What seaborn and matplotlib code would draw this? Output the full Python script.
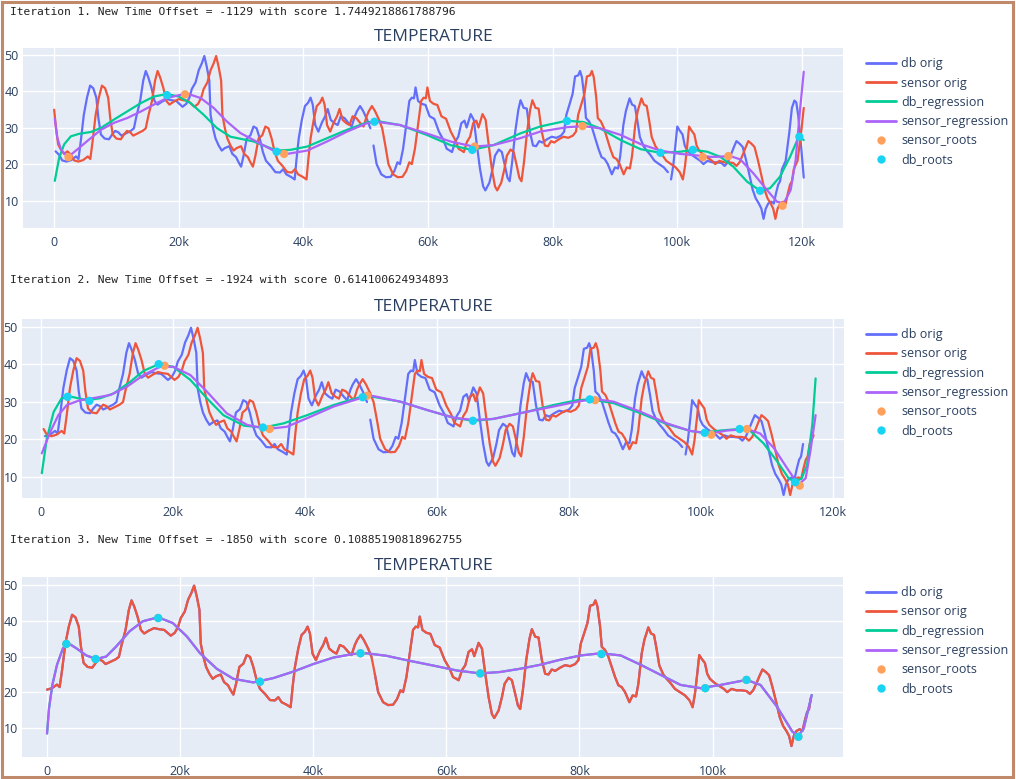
import numpy as np
import pandas as pd
import matplotlib
matplotlib.use("Agg")
import matplotlib.pyplot as plt
import seaborn as sns
from matplotlib.lines import Line2D
from matplotlib.patches import Rectangle
from matplotlib.ticker import FuncFormatter

sns.set_theme(style="darkgrid")
plt.rcParams['font.family'] = ['Open Sans', 'DejaVu Sans']

# ---------------- data (x in thousands) ----------------
temp_t = [-3.9, -3.6, -3.26, -2.83, -2.3, -1.77, -1.23, -0.7,
          0.0, 0.75, 1.5, 1.9, 2.26, 2.76, 3.27, 3.77, 4.27, 4.77, 5.1, 5.5,
          6.1, 6.8, 7.3, 7.8, 8.3, 8.8, 9.5, 10.3, 10.8, 11.2, 11.8, 12.3,
          12.7, 13.1, 13.6, 14.1, 14.6, 15.3, 16.1, 16.8, 17.6, 18.1, 18.6,
          19.2, 19.7, 20.1, 20.7, 21.2, 21.7, 22.1, 22.5, 22.9, 23.1, 23.5,
          23.9, 24.4, 24.9, 25.4, 26.1, 26.6, 27.2, 27.6, 28.0, 28.4, 28.9,
          29.5, 30.0, 30.5, 31.0, 31.5, 32.0, 32.75, 33.5, 34.25, 34.75,
          35.25, 36.0, 36.6, 36.9, 37.25, 37.75, 38.25, 38.75, 39.15, 39.5,
          39.9, 40.4, 41.0, 41.5, 41.9, 42.4, 43.0, 43.5, 44.0, 44.6, 45.25,
          45.75, 46.25, 46.6, 47.1, 47.6, 48.25, 48.75, 49.25, 49.75, 50.5,
          51.25, 52.0, 52.6, 53.1, 53.5, 54.0, 54.5, 55.0, 55.4, 55.75, 56.0,
          56.4, 57.0, 57.6, 58.25, 59.0, 59.75, 60.5, 61.0, 61.5, 61.85,
          62.35, 62.85, 63.35, 63.85, 64.2, 64.85, 65.35, 65.85, 66.35,
          66.85, 67.2, 67.85, 68.35, 68.75, 69.35, 69.85, 70.35, 70.75, 71.1,
          71.5, 72.0, 72.5, 72.85, 73.35, 73.85, 74.35, 74.85, 75.35, 75.85,
          76.35, 77.1, 77.85, 78.6, 79.35, 79.85, 80.2, 80.7, 81.2, 81.6,
          82.1, 82.4, 82.7, 83.1, 83.35, 83.85, 84.35, 84.85, 85.35, 85.85,
          86.35, 86.85, 87.5, 88.0, 88.5, 88.85, 89.35, 89.75, 90.35, 90.75,
          91.2, 91.6, 92.0, 92.6, 93.1, 93.6, 94.35, 95.1, 95.85, 96.5, 97.0,
          97.35, 97.7, 98.0, 98.35, 98.85, 99.2, 99.6, 100.35, 101.1, 101.7,
          102.2, 102.85, 103.6, 104.35, 105.1, 105.6, 106.1, 106.6, 107.1,
          107.5, 108.0, 108.5, 109.0, 109.5, 110.1, 110.6, 111.1, 111.5,
          111.85, 112.2, 112.6, 113.1, 113.5, 113.85, 114.2, 114.5, 114.8,
          115.4, 116.0, 116.4]
temp_v = [35.0, 30.0, 25.5, 24.1, 22.9, 23.6, 22.7, 21.1,
          20.8, 21.2, 22.2, 21.5, 26.2, 33.6, 38.3, 41.6, 40.9, 38.3, 32.7, 28.2,
          27.1, 26.9, 28.2, 29.2, 28.8, 27.9, 28.5, 29.2, 29.9, 33.2, 37.4, 43.0,
          45.6, 43.9, 41.1, 37.4, 36.4, 37.2, 37.9, 37.6, 37.4, 36.6, 35.8,
          36.6, 38.3, 40.7, 42.5, 45.8, 47.7, 49.7, 46.7, 43.0, 33.6, 29.9,
          27.1, 25.2, 23.8, 24.5, 25.0, 22.9, 22.0, 20.6, 19.4, 22.4, 27.1,
          28.0, 30.4, 29.9, 27.1, 23.4, 21.0, 19.6, 17.9, 17.8, 18.7,
          17.3, 16.6, 15.9, 21.5, 27.1, 32.2, 36.0, 36.9, 38.3, 36.4,
          30.8, 29.0, 31.6, 33.2, 35.2, 32.2, 31.3, 30.8, 33.2, 32.7, 31.3,
          30.4, 33.2, 34.6, 36.0, 34.6, 32.2, 29.9, 25.2, 20.1, 17.3,
          16.5, 16.6, 18.2, 20.6, 20.1, 24.3, 30.8, 37.4, 38.3, 38.1, 41.1,
          37.4, 36.6, 36.3, 33.2, 32.5, 29.0, 26.6, 24.3, 23.8, 23.4,
          26.2, 27.6, 31.3, 32.0, 30.1, 33.8, 32.2, 25.2, 18.7,
          14.0, 12.9, 15.0, 18.7, 22.4, 24.1, 23.4, 19.6, 16.4, 15.4,
          20.6, 29.0, 35.0, 37.6, 35.5, 35.3, 29.0, 25.2, 25.0, 26.4,
          26.0, 26.9, 27.6, 27.3, 27.9, 29.0, 33.6, 36.4, 39.3, 44.1,
          44.4, 45.6, 43.9, 38.3, 32.7, 31.8, 29.9, 27.1, 24.3, 22.0,
          21.5, 20.1, 17.3, 19.2, 18.9, 22.4, 30.8, 34.6, 38.1, 36.4,
          36.0, 32.0, 27.5, 25.0, 23.8, 22.8, 21.0, 20.1, 19.2, 17.9, 15.9,
          19.6, 25.2, 30.4, 29.4, 28.2, 25.2, 23.8, 22.6, 21.7, 21.0,
          20.1, 21.0, 20.6, 20.6, 20.4, 19.6, 20.6, 22.6, 24.8,
          26.4, 25.7, 24.8, 21.5, 17.8, 13.1, 10.7, 9.3, 7.9,
          5.1, 7.9, 9.3, 9.8, 9.3, 12.1, 14.5, 15.4, 18.7,
          21.0, 29.0, 35.5]
# extra db readings after the sensor trace ends (iteration 1 only)
db_tail_t = [116.8, 117.1, 117.4, 117.9, 118.3]
db_tail_v = [37.5, 37.0, 33.6, 24.5, 16.4]
# positions where the db trace is broken
db_breaks_t = [49.0, 96.75]

iteration_texts = [
    "Iteration 1. New Time Offset = -1129 with score 1.7449218861788796",
    "Iteration 2. New Time Offset = -1924 with score 0.614100624934893",
    "Iteration 3. New Time Offset = -1850 with score 0.10885190818962755",
]
sensor_shift = [3.9, 1.6, 0.0]   # sensor time axis start per iteration
db_lead = [1.9, 1.0, 0.0]        # remaining db lead over sensor
sensor_t_end = [116.4, 115.4, 114.8]
db_t_end = [118.3, 114.8, 114.8]

# ---- iteration 1 regressions / roots ----
db_reg1_x = [0.1, 0.8, 1.6, 2.67, 4.0, 5.9, 7.5, 9.6, 11.7, 13.9, 16.0, 18.1,
             20.0, 21.9, 24.0, 26.1, 28.3, 32.0, 35.7, 37.9, 40.6, 43.8, 47.0,
             50.2, 51.8, 55.5, 59.8, 63.6, 67.0, 70.5, 74.8, 78.0, 82.3, 85.0,
             87.6, 90.9, 94.1, 97.3, 100.5, 102.6, 104.8, 106.9, 109.0, 111.2,
             113.3, 114.9, 116.5, 118.1, 119.5, 120.3]
db_reg1_y = [15.5, 21.8, 25.5, 27.7, 28.4, 28.9, 30.0, 32.3, 34.5, 36.8, 38.6,
             39.3, 38.6, 36.8, 33.6, 30.0, 27.6, 26.3, 23.8, 24.0, 24.9, 27.2,
             29.5, 31.5, 31.9, 30.8, 28.1, 25.3, 24.0, 25.3, 28.5, 30.4, 32.0,
             31.6, 29.9, 26.7, 24.2, 23.2, 23.5, 24.0, 23.5, 22.1, 19.4, 15.3,
             12.8, 13.5, 16.7, 22.1, 27.6, 26.7]
sens_reg1_x = [0.1, 0.5, 1.1, 1.9, 2.7, 3.7, 5.3, 7.5, 9.6, 11.7, 13.9, 16.0,
               18.1, 20.3, 21.9, 23.5, 25.6, 27.7, 29.9, 32.0, 35.2, 37.4,
               40.6, 43.8, 47.0, 50.2, 51.8, 55.5, 59.8, 63.6, 67.3, 70.5,
               74.8, 78.0, 82.3, 85.0, 87.6, 90.9, 94.1, 97.3, 100.5, 105.3,
               106.4, 108.5, 110.1, 112.2, 114.4, 116.0, 117.1, 118.2, 119.0,
               119.7, 120.3]
sens_reg1_y = [32.5, 27.3, 24.1, 22.5, 22.7, 24.1, 26.4, 29.5, 31.4, 32.7,
               34.5, 36.4, 38.2, 39.1, 39.1, 38.2, 35.5, 31.8, 28.6, 26.7,
               23.8, 22.9, 23.8, 26.3, 29.0, 31.3, 31.7, 30.8, 28.5, 26.3,
               24.9, 25.3, 27.2, 29.0, 30.2, 30.5, 29.9, 28.1, 25.6, 23.8,
               22.9, 22.1, 22.1, 22.3, 21.4, 17.6, 13.0, 9.8, 9.4, 13.0, 21.2,
               34.9, 45.4]
sens_roots1_x = [2.3, 21.0, 36.9, 67.5, 84.8, 104.1, 108.2, 116.9]
sens_roots1_y = [22.0, 39.2, 22.9, 24.9, 30.5, 22.0, 22.3, 8.7]
db_roots1_x = [18.1, 35.7, 51.4, 67.1, 82.3, 97.3, 102.5, 113.3, 119.6]
db_roots1_y = [39.0, 23.5, 31.7, 24.0, 31.9, 23.2, 24.0, 12.8, 27.6]

# ---- iteration 2 regressions / roots ----
db_reg2_x = [0.1, 0.86, 1.9, 3.1, 4.6, 6.9, 8.9, 11.0, 13.5, 15.5, 17.8, 20.0,
             22.6, 25.1, 27.6, 30.7, 33.7, 36.7, 40.3, 44.3, 48.3, 50.3, 54.4,
             58.4, 62.5, 65.5, 68.5, 73.6, 77.6, 81.2, 83.2, 86.7, 90.8, 94.8,
             98.3, 100.3, 102.9, 105.7, 107.4, 109.4, 111.5, 113.2, 114.2,
             115.2, 116.0, 116.8, 117.3]
db_reg2_y = [10.9, 20.2, 27.3, 30.9, 31.3, 30.4, 30.9, 32.2, 35.3, 38.2, 40.0,
             39.3, 35.8, 30.9, 26.4, 23.6, 23.1, 24.2, 26.4, 29.1, 31.2, 31.3,
             30.0, 27.8, 25.7, 24.9, 25.4, 27.3, 29.1, 30.4, 30.6, 29.6, 26.9,
             24.0, 22.2, 21.7, 22.3, 22.7, 22.2, 18.9, 14.0, 9.6, 8.5, 9.6,
             13.1, 23.8, 36.2]
sens_reg2_x = [0.1, 1.4, 2.6, 3.9, 5.9, 8.4, 10.5, 13.0, 15.5, 18.0, 20.0,
               22.6, 25.1, 28.1, 31.2, 34.2, 37.2, 40.3, 44.3, 48.3, 50.3,
               54.4, 58.4, 62.5, 65.5, 68.5, 73.6, 77.6, 81.2, 83.9, 86.7,
               90.8, 94.8, 98.3, 101.3, 103.9, 106.9, 108.9, 111.0, 113.0,
               114.7, 115.8, 116.5, 117.3]
sens_reg2_y = [16.2, 22.0, 26.4, 29.1, 30.4, 31.1, 31.8, 34.0, 37.1, 39.3,
               39.3, 37.1, 32.7, 26.9, 23.8, 22.7, 23.3, 25.6, 28.7, 30.9,
               31.5, 30.0, 27.8, 25.7, 25.1, 25.4, 27.3, 28.7, 30.0, 30.7,
               30.0, 27.3, 24.2, 22.2, 21.5, 22.3, 22.7, 21.5, 17.6, 12.2,
               7.8, 9.6, 16.7, 26.4]
sens_roots2_x = [18.7, 34.6, 49.4, 83.9, 101.5, 106.9, 114.9]
sens_roots2_y = [39.6, 22.7, 31.6, 30.4, 21.2, 22.7, 7.6]
db_roots2_x = [4.0, 7.3, 17.8, 33.6, 48.7, 65.4, 83.1, 100.5, 105.8, 114.2]
db_roots2_y = [31.3, 30.2, 40.0, 23.1, 31.2, 24.9, 30.6, 21.7, 22.7, 8.5]

# ---- iteration 3 (db and sensor regressions coincide) ----
reg3_x = [0.0, 0.3, 0.8, 1.5, 2.4, 3.2, 4.4, 5.9, 7.4, 8.9, 10.4, 12.4, 14.4,
          16.7, 18.9, 21.0, 23.0, 25.5, 28.0, 31.0, 34.0, 37.0, 40.0, 43.0,
          46.0, 48.0, 51.0, 54.5, 58.0, 61.6, 65.1, 68.1, 71.1, 74.1, 77.1,
          80.2, 83.2, 86.2, 89.2, 92.2, 95.2, 98.2, 101.2, 105.1, 107.2,
          109.7, 112.0, 112.9, 113.7, 114.9]
reg3_y = [8.6, 15.6, 22.1, 27.7, 32.3, 33.7, 32.3, 30.3, 29.3, 30.0, 32.8,
          37.0, 39.8, 40.9, 39.3, 35.6, 30.9, 26.6, 23.8, 22.8, 24.0, 25.8,
          27.9, 29.7, 30.7, 30.9, 30.2, 28.8, 27.5, 26.1, 25.3, 25.7, 26.6,
          27.7, 29.1, 30.3, 30.9, 30.3, 27.7, 24.9, 22.1, 21.2, 22.1, 23.5,
          22.1, 16.0, 9.1, 8.0, 10.0, 19.3]
roots3_x = [2.9, 7.3, 16.7, 32.0, 47.1, 65.1, 83.3, 98.9, 105.1, 112.9]
roots3_y = [33.5, 29.3, 40.7, 23.0, 30.9, 25.3, 30.7, 21.2, 23.5, 7.7]

x_ticks = [[0, 20, 40, 60, 80, 100, 120],
           [0, 20, 40, 60, 80, 100, 120],
           [0, 20, 40, 60, 80, 100]]

panels = [
    dict(db_reg=(db_reg1_x, db_reg1_y), sens_reg=(sens_reg1_x, sens_reg1_y),
         sens_roots=(sens_roots1_x, sens_roots1_y), db_roots=(db_roots1_x, db_roots1_y),
         xlim=(-5.0, 126.6), ylim=(2.6, 51.9), box=(23, 48, 843, 228),
         text_y=12, title_y=37, leg_y=46),
    dict(db_reg=(db_reg2_x, db_reg2_y), sens_reg=(sens_reg2_x, sens_reg2_y),
         sens_roots=(sens_roots2_x, sens_roots2_y), db_roots=(db_roots2_x, db_roots2_y),
         xlim=(-2.9, 121.6), ylim=(4.3, 52.05), box=(22, 319, 844, 498),
         text_y=280, title_y=307, leg_y=317),
    dict(db_reg=(reg3_x, reg3_y), sens_reg=(reg3_x, reg3_y),
         sens_roots=(roots3_x, roots3_y), db_roots=(roots3_x, roots3_y),
         xlim=(-3.76, 119.6), ylim=(2.07, 52.1), box=(22, 577, 843, 757),
         text_y=540, title_y=566, leg_y=575),
]

C_DB, C_SENS = "#636efa", "#EF553B"
C_DBREG, C_SREG = "#00cc96", "#ab63fa"
C_SROOT, C_DROOT = "#FFA15A", "#19d3f3"
FONT_C = "#2a3f5f"

W, H = 1016, 779
fig = plt.figure(figsize=(W / 100, H / 100), dpi=100)
fig.patch.set_facecolor("white")

t_all = np.array(temp_t)
v_all = np.array(temp_v)
t_db = np.array(temp_t + db_tail_t)
v_db = np.array(temp_v + db_tail_v)
seg_db = np.searchsorted(np.array(db_breaks_t), t_db)

kfmt = FuncFormatter(lambda v, p: "0" if abs(v) < 1e-9 else f"{int(round(v))}k")

for k, P in enumerate(panels):
    l, t, r, b = P["box"]
    ax = fig.add_axes([l / W, 1 - b / H, (r - l) / W, (b - t) / H])
    ax.set_facecolor("#E5ECF6")
    for s in ax.spines.values():
        s.set_visible(False)
    ax.grid(True, color="white", lw=1.0)

    # db orig
    xd = t_db + sensor_shift[k] - db_lead[k]
    md = (xd >= 0) & (t_db <= db_t_end[k])
    sns.lineplot(x=xd[md], y=v_db[md], units=seg_db[md], estimator=None,
                 sort=False, color=C_DB, lw=1.6, ax=ax)
    # sensor orig
    xs = t_all + sensor_shift[k]
    ms = (xs >= 0) & (t_all <= sensor_t_end[k])
    sns.lineplot(x=xs[ms], y=v_all[ms], estimator=None, sort=False,
                 color=C_SENS, lw=1.6, ax=ax)
    # regressions
    sns.lineplot(x=P["db_reg"][0], y=P["db_reg"][1], estimator=None, sort=False,
                 color=C_DBREG, lw=1.6, ax=ax)
    sns.lineplot(x=P["sens_reg"][0], y=P["sens_reg"][1], estimator=None, sort=False,
                 color=C_SREG, lw=1.6, ax=ax)
    # roots
    sns.scatterplot(x=P["sens_roots"][0], y=P["sens_roots"][1], color=C_SROOT,
                    s=36, edgecolor="none", ax=ax, zorder=5)
    sns.scatterplot(x=P["db_roots"][0], y=P["db_roots"][1], color=C_DROOT,
                    s=36, edgecolor="none", ax=ax, zorder=6)

    ax.set_xlim(*P["xlim"])
    ax.set_ylim(*P["ylim"])
    ax.set_xticks(x_ticks[k])
    ax.set_yticks([10, 20, 30, 40, 50])
    ax.xaxis.set_major_formatter(kfmt)
    ax.tick_params(axis="both", length=0, labelsize=9, labelcolor=FONT_C)
    ax.tick_params(axis="x", pad=6)
    ax.tick_params(axis="y", pad=3)
    ax.set_xlabel("")
    ax.set_ylabel("")
    if ax.get_legend():
        ax.get_legend().remove()

    fig.text(10 / W, 1 - P["text_y"] / H, iteration_texts[k],
             family="DejaVu Sans Mono", fontsize=8.1, color="#222222",
             ha="left", va="center")
    fig.text(434 / W, 1 - P["title_y"] / H, "TEMPERATURE", fontsize=12.5,
             color=FONT_C, ha="center", va="center")

    handles = [
        Line2D([], [], color=C_DB, lw=2),
        Line2D([], [], color=C_SENS, lw=2),
        Line2D([], [], color=C_DBREG, lw=2),
        Line2D([], [], color=C_SREG, lw=2),
        Line2D([], [], color=C_SROOT, lw=0, marker="o", markersize=6, markeredgewidth=0),
        Line2D([], [], color=C_DROOT, lw=0, marker="o", markersize=6, markeredgewidth=0),
    ]
    labels = ["db orig", "sensor orig", "db_regression", "sensor_regression",
              "sensor_roots", "db_roots"]
    leg = fig.legend(handles, labels, loc="upper left",
                     bbox_to_anchor=(855 / W, 1 - P["leg_y"] / H),
                     bbox_transform=fig.transFigure, frameon=False, fontsize=9,
                     handlelength=2.4, handletextpad=0.4, labelspacing=0.5,
                     borderpad=0.4)
    for txt in leg.get_texts():
        txt.set_color(FONT_C)

fig.add_artist(Rectangle((0.0015, 0.002), 0.996, 0.996, transform=fig.transFigure,
                         fill=False, edgecolor="#c08a6a", lw=2.2))

fig.savefig("out.png", dpi=100)
